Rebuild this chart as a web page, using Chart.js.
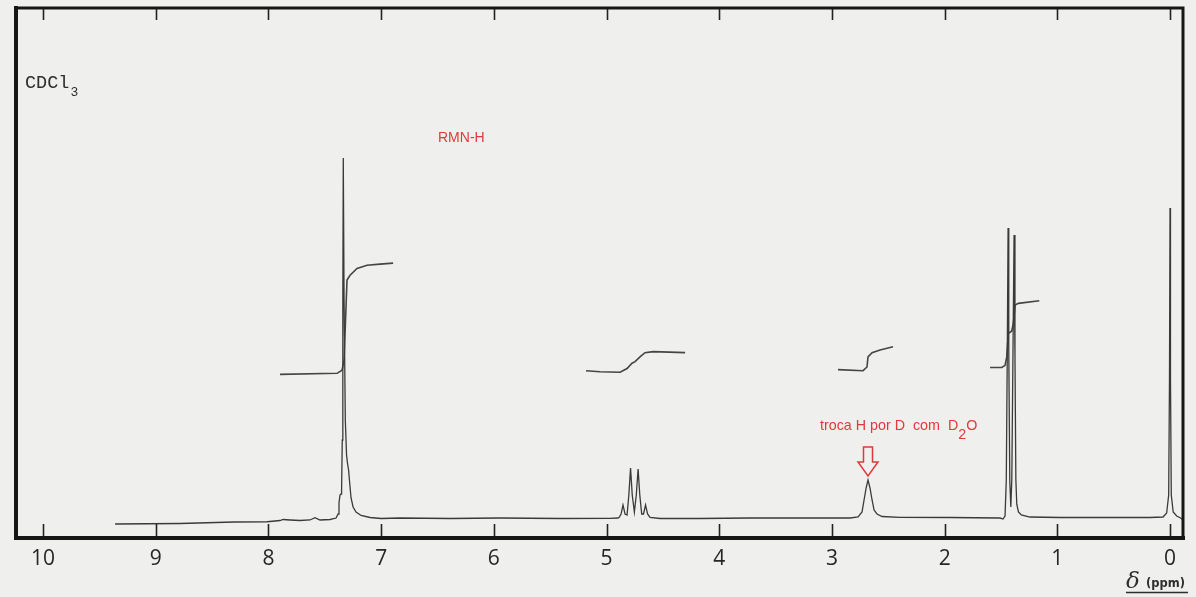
<!DOCTYPE html>
<html>
<head>
<meta charset="utf-8">
<title>RMN-H</title>
<script src="https://cdn.jsdelivr.net/npm/chart.js@4.4.1/dist/chart.umd.min.js"></script>
<style>
  html, body { margin: 0; padding: 0; background: #efefed; }
  #wrap { width: 1196px; height: 597px; position: relative; }
</style>
</head>
<body>
<div id="wrap"><canvas id="nmr"></canvas></div>
<script>
// chemical shift axis (ppm), drawn right-to-left
const shiftMin = -0.115;
const shiftMax = 10.24;
const tickShifts = [0, 1, 2, 3, 4, 5, 6, 7, 8, 9, 10];

// recorder trace: [delta ppm, signal]
const spectrumTrace = [
  [9.361, -1.13], [8.784, -1.03], [8.305, -0.75], [8.012, -0.70], [7.897, -0.47],
  [7.870, -0.28], [7.808, -0.37], [7.720, -0.47], [7.631, -0.37], [7.587, 0.06],
  [7.542, -0.37], [7.453, -0.28], [7.400, 0.00], [7.382, 0.76], [7.374, 2.83],
  [7.365, 4.34], [7.356, 4.53], [7.351, 5.29], [7.345, 14.72], [7.340, 41.14],
  [7.336, 67.93], [7.329, 41.14], [7.318, 18.49], [7.307, 11.89], [7.300, 10.57],
  [7.289, 9.06], [7.280, 6.80], [7.267, 3.78], [7.249, 2.08], [7.223, 1.14],
  [7.178, 0.48], [7.098, 0.10], [7.001, -0.09], [6.832, 0.00], [6.389, -0.09],
  [5.945, 0.00], [5.413, -0.09], [4.969, -0.05], [4.898, 0.00], [4.889, 0.10],
  [4.871, 0.76], [4.854, 2.46], [4.836, 0.76], [4.818, 0.57], [4.802, 4.34],
  [4.787, 9.44], [4.772, 4.34], [4.753, 1.14], [4.736, 4.34], [4.720, 9.25],
  [4.705, 4.34], [4.688, 0.76], [4.672, 0.76], [4.654, 2.46], [4.636, 0.76],
  [4.614, 0.10], [4.525, -0.09], [4.170, -0.09], [3.727, 0.00], [3.283, 0.00],
  [2.839, 0.00], [2.768, 0.19], [2.733, 1.14], [2.715, 3.40], [2.697, 5.66],
  [2.680, 7.17], [2.662, 5.66], [2.644, 3.40], [2.626, 1.51], [2.600, 0.76],
  [2.555, 0.29], [2.396, 0.14], [1.952, 0.10], [1.508, 0.00], [1.482, -0.19],
  [1.464, 0.38], [1.453, 7.17], [1.444, 31.70], [1.437, 54.72], [1.431, 31.70],
  [1.422, 7.17], [1.413, 2.08], [1.404, 7.20], [1.394, 30.50], [1.384, 53.40],
  [1.376, 30.50], [1.368, 7.20], [1.360, 2.60], [1.345, 1.14], [1.320, 0.57],
  [1.242, 0.19], [0.976, 0.10], [0.621, 0.10], [0.177, 0.10],
  [0.062, 0.19], [0.030, 0.95], [0.012, 4.34], [0.005, 26.04], [0.000, 58.49],
  [-0.004, 26.04], [-0.011, 4.34], [-0.028, 1.14], [-0.059, 0.38], [-0.094, 0.00],
  [-0.115, -0.37]
];

// integral steps
const integralAromatic = [
  [7.897, 27.1], [7.391, 27.3], [7.347, 27.9], [7.329, 29.8], [7.303, 44.9],
  [7.276, 45.8], [7.214, 47.1], [7.125, 47.7], [7.010, 47.9], [6.894, 48.1]
];
const integralQuartet = [
  [5.182, 27.8], [5.058, 27.6], [4.880, 27.5], [4.818, 28.2], [4.774, 29.2],
  [4.747, 29.5], [4.703, 30.4], [4.659, 31.2], [4.587, 31.4], [4.303, 31.2]
];
const integralExchange = [
  [2.946, 28.0], [2.724, 27.8], [2.689, 28.5], [2.680, 30.4], [2.644, 31.2],
  [2.573, 31.7], [2.458, 32.3]
];
const integralDoublet = [
  [1.597, 28.4], [1.493, 28.4], [1.464, 28.8], [1.449, 30.4], [1.435, 34.8],
  [1.405, 35.3], [1.390, 36.7], [1.375, 40.2], [1.346, 40.5], [1.160, 41.0]
];

// exchangeable proton (marked with the arrow)
const exchangeShift = 2.680;

const red = '#e0393b';
const ink = '#262626';

function toPoints(pairs) {
  return pairs.map(p => ({ x: p[0], y: p[1] }));
}

function traceDataset(pairs, width, color) {
  return {
    data: toPoints(pairs),
    borderColor: color,
    borderWidth: width,
    pointRadius: 0,
    tension: 0,
    fill: false
  };
}

const spectrumPlate = {
  id: 'spectrumPlate',
  afterDatasetsDraw(chart) {
    const { ctx, chartArea: a, scales } = chart;
    const sx = scales.x, sy = scales.y;
    ctx.save();

    // frame of the chart paper
    ctx.strokeStyle = '#161616';
    ctx.lineCap = 'square';
    ctx.lineWidth = 3;
    ctx.beginPath();
    ctx.moveTo(a.left, a.top);
    ctx.lineTo(a.right, a.top);
    ctx.lineTo(a.right, a.bottom);
    ctx.stroke();
    ctx.lineWidth = 4;
    ctx.beginPath();
    ctx.moveTo(a.left, a.top);
    ctx.lineTo(a.left, a.bottom);
    ctx.lineTo(a.right, a.bottom);
    ctx.stroke();

    // inward ticks on top and bottom edges
    ctx.lineWidth = 1.6;
    ctx.lineCap = 'butt';
    ctx.strokeStyle = '#222';
    tickShifts.forEach(t => {
      const px = Math.round(sx.getPixelForValue(t)) + 0.5;
      ctx.beginPath();
      ctx.moveTo(px, a.bottom - 2);
      ctx.lineTo(px, a.bottom - 14);
      ctx.moveTo(px, a.top + 1);
      ctx.lineTo(px, a.top + 12);
      ctx.stroke();
    });

    // solvent
    ctx.fillStyle = '#2e2e2e';
    ctx.textBaseline = 'alphabetic';
    ctx.font = '18.5px "Liberation Mono", "DejaVu Sans Mono", monospace';
    ctx.fillText('CDCl', 25, 88);
    let w = ctx.measureText('CDCl').width;
    ctx.font = '13px "Liberation Mono", "DejaVu Sans Mono", monospace';
    ctx.fillText('3', 25 + w + 1, 96);

    // title
    ctx.fillStyle = red;
    ctx.font = '14px "Liberation Sans", Arial, sans-serif';
    ctx.fillText('RMN-H', 438, 142);

    // D2O exchange note
    let tx = 820;
    const ty = 430;
    const main = 'troca H por D  com  D';
    ctx.font = '14.3px "Liberation Sans", Arial, sans-serif';
    ctx.fillText(main, tx, ty);
    tx += ctx.measureText(main).width;
    ctx.fillText('2', tx, ty + 9);
    tx += ctx.measureText('2').width;
    ctx.fillText('O', tx, ty);

    // hollow arrow down to the exchange peak
    const peak = spectrumTrace.find(p => p[0] === exchangeShift);
    const cx = sx.getPixelForValue(exchangeShift);
    const tip = sy.getPixelForValue(peak[1]) - 4;
    const headBase = tip - 14;
    const shaftTop = tip - 29;
    ctx.strokeStyle = red;
    ctx.lineWidth = 1.5;
    ctx.lineJoin = 'miter';
    ctx.beginPath();
    ctx.moveTo(cx - 4.5, shaftTop);
    ctx.lineTo(cx + 4.5, shaftTop);
    ctx.lineTo(cx + 4.5, headBase);
    ctx.lineTo(cx + 10, headBase);
    ctx.lineTo(cx, tip);
    ctx.lineTo(cx - 10, headBase);
    ctx.lineTo(cx - 4.5, headBase);
    ctx.closePath();
    ctx.stroke();

    // axis unit
    ctx.fillStyle = '#2e2e2e';
    ctx.font = 'italic 23px "DejaVu Serif", serif';
    ctx.fillText('\u03b4', 1126, 588);
    ctx.font = 'bold 11.5px "DejaVu Sans", sans-serif';
    ctx.fillText('(ppm)', 1146, 587);
    ctx.strokeStyle = '#2e2e2e';
    ctx.lineWidth = 1.5;
    ctx.beginPath();
    ctx.moveTo(1126, 592.5);
    ctx.lineTo(1188, 592.5);
    ctx.stroke();

    ctx.restore();
  }
};

new Chart(document.getElementById('nmr'), {
  type: 'line',
  data: {
    datasets: [
      traceDataset(spectrumTrace, 1.3, '#3a3a3a'),
      traceDataset(integralAromatic, 1.6, '#454545'),
      traceDataset(integralQuartet, 1.6, '#454545'),
      traceDataset(integralExchange, 1.6, '#454545'),
      traceDataset(integralDoublet, 1.6, '#454545')
    ]
  },
  options: {
    responsive: true,
    maintainAspectRatio: false,
    animation: false,
    layout: { padding: { left: 16, right: 13, top: 8, bottom: 0 } },
    plugins: {
      legend: { display: false },
      tooltip: { enabled: false }
    },
    scales: {
      x: {
        type: 'linear',
        reverse: true,
        min: shiftMin,
        max: shiftMax,
        afterBuildTicks: scale => {
          scale.ticks = tickShifts.map(v => ({ value: v }));
        },
        afterFit: scale => { scale.height = 59; },
        grid: { display: false, drawTicks: false },
        border: { display: false },
        ticks: {
          autoSkip: false,
          maxRotation: 0,
          padding: 8,
          color: ink,
          font: { family: '"Open Sans", sans-serif', size: 21 },
          callback: v => String(v)
        }
      },
      y: {
        display: false,
        min: -3.77,
        max: 96.23
      }
    }
  },
  plugins: [spectrumPlate]
});
</script>
</body>
</html>
